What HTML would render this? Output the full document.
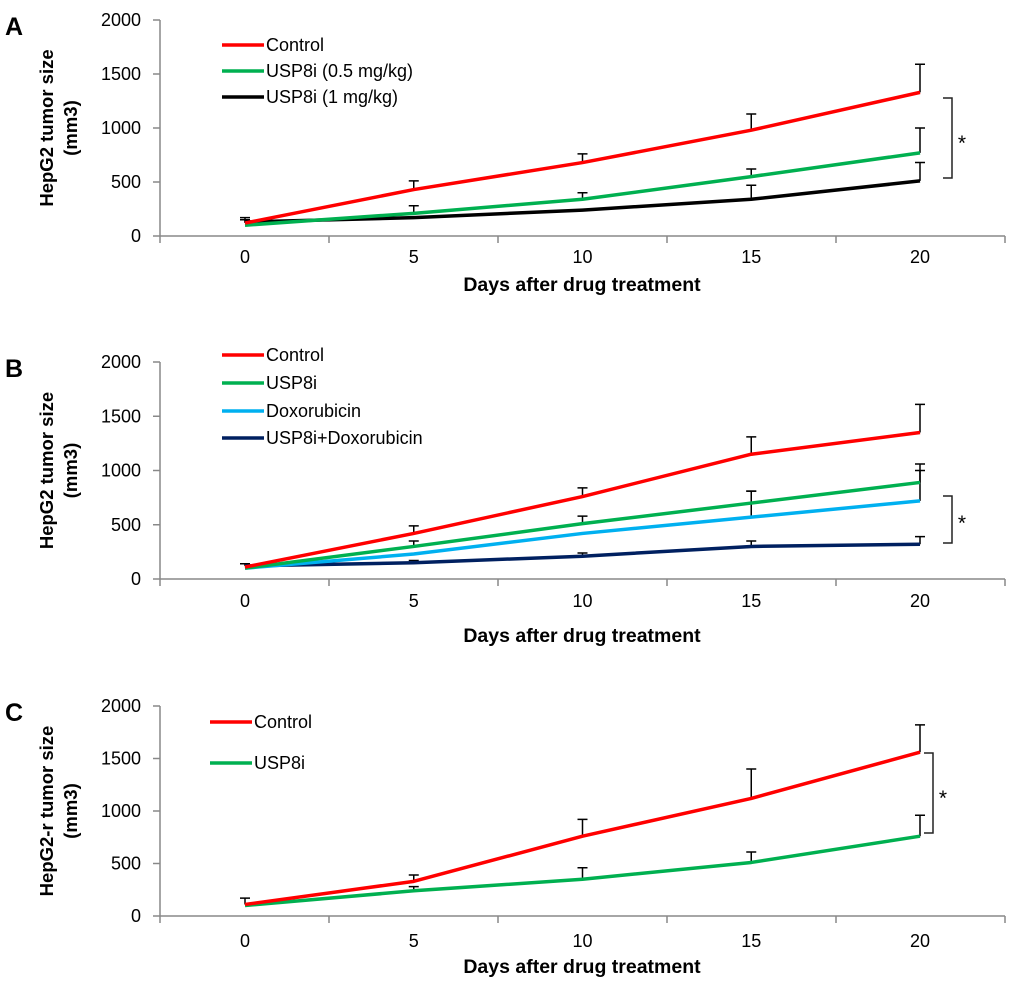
<!DOCTYPE html>
<html><head><meta charset="utf-8"><style>
html,body{margin:0;padding:0;background:#fff;}
svg{display:block;font-family:"Liberation Sans",Arial,sans-serif;}
</style></head><body>
<svg id="chart" width="1020" height="984" viewBox="0 0 1020 984" xmlns="http://www.w3.org/2000/svg"></svg>
<script>
const days = [0, 5, 10, 15, 20];
const yTicks = [0, 500, 1000, 1500, 2000];
// Panel A
const aControl = [120, 430, 680, 980, 1330];
const aControlErr = [170, 510, 760, 1130, 1590];
const aLow = [100, 210, 340, 550, 770];
const aLowErr = [null, 280, 400, 620, 1000];
const aHigh = [130, 170, 240, 340, 510];
const aHighErr = [150, null, null, 470, 680];
// Panel B
const bControl = [110, 420, 760, 1150, 1350];
const bControlErr = [null, 490, 840, 1310, 1610];
const bUsp = [100, 300, 510, 700, 890];
const bUspErr = [null, 350, 580, 810, 1060];
const bDox = [100, 230, 420, 570, 720];
const bDoxErr = [null, null, null, 810, 1000];
const bCombo = [120, 150, 210, 300, 320];
const bComboErr = [140, 170, 240, 350, 390];
// Panel C
const cControl = [110, 330, 760, 1120, 1560];
const cControlErr = [170, 390, 920, 1400, 1820];
const cUsp = [100, 240, 350, 510, 760];
const cUspErr = [null, 280, 460, 610, 960];

const NS = "http://www.w3.org/2000/svg";
const svg = document.getElementById('chart');
function el(tag, attrs, parent){const e=document.createElementNS(NS,tag);for(const k in attrs)e.setAttribute(k,attrs[k]);(parent||svg).appendChild(e);return e;}
function txt(s, attrs, parent){const t=el('text',attrs,parent);t.textContent=s;return t;}

const panels = [
 {id:'a',letter:'A',y0:236,y2000:20,labelY:263,titleY:291,ytitle:'HepG2 tumor size',
  series:[{name:'Control',c:'#ff0000',v:aControl,e:aControlErr},{name:'USP8i (0.5 mg/kg)',c:'#00b050',v:aLow,e:aLowErr},{name:'USP8i (1 mg/kg)',c:'#000000',v:aHigh,e:aHighErr}],
  legendY:[45,71,97],legX:222,bracket:[952,98,178],star:[962,150]},
 {id:'b',letter:'B',y0:579,y2000:362,labelY:607,titleY:642,ytitle:'HepG2 tumor size',
  series:[{name:'Control',c:'#ff0000',v:bControl,e:bControlErr},{name:'USP8i',c:'#00b050',v:bUsp,e:bUspErr},{name:'Doxorubicin',c:'#00b0f0',v:bDox,e:bDoxErr},{name:'USP8i+Doxorubicin',c:'#002060',v:bCombo,e:bComboErr}],
  legendY:[355,383,411,438],legX:222,bracket:[952,496,543],star:[962,530]},
 {id:'c',letter:'C',y0:916,y2000:706,labelY:947,titleY:973,ytitle:'HepG2-r tumor size',
  series:[{name:'Control',c:'#ff0000',v:cControl,e:cControlErr},{name:'USP8i',c:'#00b050',v:cUsp,e:cUspErr}],
  legendY:[722,763],legX:210,bracket:[933,753,833],star:[943,805]}
];
const xs = d => 245 + d/20*675;

panels.forEach(p=>{
  const g = el('g',{});
  
  
  const ys = v => p.y0 - v/2000*(p.y0-p.y2000);
  const L = txt(p.letter,{x:5,y:p.y2000+15,'font-size':25,'font-weight':'bold'},g);
  
  
  const ya = el('line',{x1:160,y1:p.y2000,x2:160,y2:p.y0,stroke:'#888','stroke-width':1.5},g);
  
  
  yTicks.forEach(t=>{
    el('line',{x1:153,y1:ys(t),x2:160,y2:ys(t),stroke:'#888','stroke-width':1.5},g);
    const tl = txt(String(t),{x:141,y:ys(t)+6,'font-size':18,'text-anchor':'end'},g);
    
    
  });
  const xa = el('line',{x1:160,y1:p.y0,x2:1005,y2:p.y0,stroke:'#888','stroke-width':1.5},g);
  
  
  for(let i=0;i<=5;i++){const x=160+i*169;el('line',{x1:x,y1:p.y0,x2:x,y2:p.y0+7,stroke:'#888','stroke-width':1.5},g);}
  days.forEach(d=>{
    const tl = txt(String(d),{x:xs(d),y:p.labelY,'font-size':18,'text-anchor':'middle'},g);
    
    
  });
  const xt = txt('Days after drug treatment',{x:582,y:p.titleY,'font-size':19.5,'font-weight':'bold','text-anchor':'middle'},g);
  
  
  const cy = (p.y0+p.y2000)/2;
  const yt = txt(p.ytitle,{x:0,y:0,'font-size':18.5,'font-weight':'bold','text-anchor':'middle',transform:`translate(53,${cy}) rotate(-90)`},g);
  
  
  const yt2 = txt('(mm3)',{x:0,y:0,'font-size':18.5,'font-weight':'bold','text-anchor':'middle',transform:`translate(77,${cy}) rotate(-90)`},g);
  
  
  p.series.forEach((s,si)=>{
    s.e.forEach((ev,i)=>{
      if(ev==null)return;
      const x=xs(days[i]);
      const eb = el('path',{d:`M${x},${ys(s.v[i])}V${ys(ev)}M${x-5},${ys(ev)}H${x+5}`,stroke:'#000','stroke-width':1.5,fill:'none'},g);
      
      
    });
  });
  p.series.slice().reverse().forEach(s=>{
    const pts = s.v.map((v,i)=>xs(days[i])+','+ys(v)).join(' ');
    const pl = el('polyline',{points:pts,fill:'none',stroke:s.c,'stroke-width':3.5,'stroke-linejoin':'round'},g);
    
    
  });
  p.series.forEach((s,si)=>{
    const ly=p.legendY[si];
    const lg = el('g',{},g);
    
    
    el('line',{x1:p.legX,y1:ly,x2:p.legX+42,y2:ly,stroke:s.c,'stroke-width':3.5},lg);
    txt(s.name,{x:p.legX+44,y:ly+6,'font-size':18},lg);
  });
  const [bx,by1,by2]=p.bracket;
  const br = el('path',{d:`M${bx-9},${by1}H${bx}V${by2}H${bx-9}`,stroke:'#222','stroke-width':1.5,fill:'none'},g);
  
  
  const st = txt('*',{x:p.star[0],y:p.star[1],'font-size':21,'text-anchor':'middle'},g);
  
  
});
</script>
</body></html>
